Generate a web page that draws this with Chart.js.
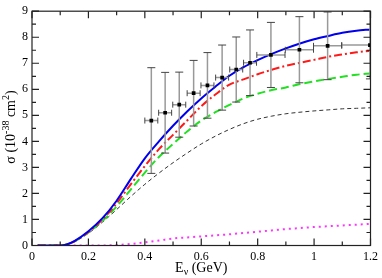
<!DOCTYPE html>
<html>
<head>
<meta charset="utf-8">
<script src="https://cdn.jsdelivr.net/npm/chart.js@4.4.1/dist/chart.umd.min.js"></script>
<style>
  body { margin: 0; background: #fff; }
  canvas { display: block; }
</style>
</head>
<body>
<canvas id="sigmaChart" width="382" height="278"></canvas>
<script>
// --- curve data (E in GeV, sigma in 1e-38 cm^2) ---
const energy = [0.02, 0.1, 0.12, 0.15, 0.2, 0.25, 0.3, 0.35, 0.4, 0.45, 0.5, 0.55, 0.6, 0.65, 0.7, 0.75, 0.8, 0.85, 0.9, 0.95, 1.0, 1.05, 1.1, 1.15, 1.2];
const sigmaBlue = [0, 0, 0.03, 0.17, 0.55, 1.05, 1.72, 2.55, 3.35, 4.0, 4.6, 5.15, 5.65, 6.1, 6.52, 6.85, 7.12, 7.36, 7.57, 7.76, 7.92, 8.05, 8.17, 8.25, 8.3];
const sigmaRed = [0, 0, 0.03, 0.16, 0.52, 1.0, 1.62, 2.35, 3.05, 3.7, 4.25, 4.8, 5.35, 5.8, 6.18, 6.38, 6.58, 6.75, 6.9, 7.02, 7.13, 7.25, 7.34, 7.42, 7.48];
const sigmaGreen = [0, 0, 0.03, 0.15, 0.5, 0.95, 1.5, 2.15, 2.8, 3.4, 3.9, 4.38, 4.8, 5.12, 5.4, 5.65, 5.83, 5.97, 6.07, 6.2, 6.3, 6.4, 6.48, 6.56, 6.61];
const sigmaBlack = [0, 0, 0.02, 0.14, 0.47, 0.9, 1.38, 1.88, 2.35, 2.78, 3.18, 3.55, 3.9, 4.2, 4.46, 4.68, 4.85, 4.97, 5.06, 5.12, 5.17, 5.21, 5.25, 5.27, 5.29];
const sigmaMagenta = [0, 0, 0, 0, 0, 0, 0.02, 0.06, 0.12, 0.19, 0.27, 0.31, 0.35, 0.39, 0.43, 0.48, 0.53, 0.58, 0.63, 0.67, 0.71, 0.74, 0.77, 0.8, 0.83];

// --- experimental points ---
const expE = [0.423, 0.472, 0.522, 0.573, 0.622, 0.674, 0.724, 0.773, 0.847, 0.948, 1.048, 1.198];
const expSigma = [4.8, 5.1, 5.41, 5.85, 6.15, 6.45, 6.76, 7.02, 7.32, 7.52, 7.67, 7.7];
const expErrY = [2.03, 1.55, 1.25, 1.26, 1.26, 1.25, 1.25, 1.26, 1.25, 1.27, 1.3, 1.3];
const expErrX = [0.023, 0.023, 0.023, 0.023, 0.023, 0.023, 0.023, 0.023, 0.05, 0.05, 0.05, 0.1];

const xTicks = [0, 0.2, 0.4, 0.6, 0.8, 1, 1.2];
const yTicks = [0, 1, 2, 3, 4, 5, 6, 7, 8, 9];

const SERIF = '"Liberation Serif", "DejaVu Serif", serif';

function toPoints(ys) {
  return energy.map((e, i) => ({ x: e, y: ys[i] }));
}

function curve(ys, color, width, dash) {
  return {
    type: 'line',
    data: toPoints(ys),
    borderColor: color,
    borderWidth: width,
    borderDash: dash,
    pointRadius: 0,
    fill: false,
    cubicInterpolationMode: 'monotone',
  };
}

// error bars drawn right before the points dataset
const errorBars = {
  id: 'errorBars',
  beforeDatasetDraw(chart, args) {
    if (args.index !== 0) return;
    const { ctx, chartArea } = chart;
    const xs = chart.scales.x;
    const ys = chart.scales.y;
    ctx.save();
    ctx.beginPath();
    ctx.rect(chartArea.left, chartArea.top, chartArea.right - chartArea.left, chartArea.bottom - chartArea.top);
    ctx.clip();
    ctx.lineWidth = 1.5;
    expE.forEach((e, i) => {
      const px = xs.getPixelForValue(e);
      const py = ys.getPixelForValue(expSigma[i]);
      const yTop = ys.getPixelForValue(expSigma[i] + expErrY[i]);
      const yBot = ys.getPixelForValue(expSigma[i] - expErrY[i]);
      const xL = xs.getPixelForValue(e - expErrX[i]);
      const xR = xs.getPixelForValue(e + expErrX[i]);
      ctx.strokeStyle = '#999';
      ctx.beginPath();
      ctx.moveTo(px, yTop); ctx.lineTo(px, yBot);
      ctx.moveTo(xL, py); ctx.lineTo(xR, py);
      ctx.stroke();
      ctx.strokeStyle = '#444';
      ctx.lineWidth = 1;
      ctx.beginPath();
      ctx.moveTo(px - 4, yTop); ctx.lineTo(px + 4, yTop);
      ctx.moveTo(px - 4, yBot); ctx.lineTo(px + 4, yBot);
      ctx.moveTo(xL, py - 3); ctx.lineTo(xL, py + 3);
      ctx.moveTo(xR, py - 3); ctx.lineTo(xR, py + 3);
      ctx.stroke();
      ctx.lineWidth = 1.5;
    });
    ctx.restore();
  },
};

// frame with inward ticks and the axis titles
const frame = {
  id: 'frame',
  afterDraw(chart) {
    const { ctx, chartArea: a } = chart;
    const xs = chart.scales.x;
    const ys = chart.scales.y;
    ctx.save();
    ctx.strokeStyle = '#222';
    ctx.lineWidth = 1.2;
    ctx.strokeRect(a.left, a.top, a.right - a.left, a.bottom - a.top);
    ctx.beginPath();
    for (let v = 0; v <= 1.2001; v += 0.1) {
      const len = Math.round(v * 10) % 2 === 0 ? 7 : 4;
      const px = xs.getPixelForValue(v);
      ctx.moveTo(px, a.bottom); ctx.lineTo(px, a.bottom - len);
      ctx.moveTo(px, a.top); ctx.lineTo(px, a.top + len);
    }
    for (let v = 0; v <= 9.001; v += 0.5) {
      const len = Math.round(v * 2) % 2 === 0 ? 7 : 4;
      const py = ys.getPixelForValue(v);
      ctx.moveTo(a.left, py); ctx.lineTo(a.left + len, py);
      ctx.moveTo(a.right, py); ctx.lineTo(a.right - len, py);
    }
    ctx.stroke();

    ctx.fillStyle = '#000';
    ctx.textBaseline = 'alphabetic';
    // x title: E_nu (GeV)
    const big = '14px ' + SERIF;
    const small = '10px ' + SERIF;
    ctx.font = big;
    const wE = ctx.measureText('E').width;
    const wRest = ctx.measureText(' (GeV)').width;
    ctx.font = small;
    const wNu = ctx.measureText('\u03BD').width;
    let x0 = (a.left + a.right) / 2 - (wE + wNu + wRest) / 2;
    const yb = 271.5;
    ctx.font = big; ctx.fillText('E', x0, yb); x0 += wE;
    ctx.font = small; ctx.fillText('\u03BD', x0, yb + 3); x0 += wNu;
    ctx.font = big; ctx.fillText(' (GeV)', x0, yb);

    // y title: sigma (10^-38 cm^2), rotated
    const parts = [
      ['\u03C3 (10', big, 0],
      ['-38', small, -6],
      [' cm', big, 0],
      ['2', small, -6],
      [')', big, 0],
    ];
    let total = 0;
    parts.forEach(p => { ctx.font = p[1]; total += ctx.measureText(p[0]).width; });
    ctx.translate(15, 127);
    ctx.rotate(-Math.PI / 2);
    let cx = -total / 2;
    parts.forEach(p => {
      ctx.font = p[1];
      ctx.fillText(p[0], cx, p[2]);
      cx += ctx.measureText(p[0]).width;
    });
    ctx.restore();
  },
};

const ctx = document.getElementById('sigmaChart').getContext('2d');
new Chart(ctx, {
  type: 'scatter',
  data: {
    datasets: [
      {
        type: 'scatter',
        data: expE.map((e, i) => ({ x: e, y: expSigma[i] })),
        pointStyle: 'rect',
        pointRadius: 2.6,
        backgroundColor: '#000',
        borderColor: '#000',
        borderWidth: 0,
      },
      curve(sigmaBlue, '#0000ee', 2, []),
      curve(sigmaRed, '#ff1a1a', 2, [8, 3, 2, 3]),
      curve(sigmaGreen, '#22e022', 2, [8, 4]),
      curve(sigmaBlack, '#333', 1, [4, 3]),
      curve(sigmaMagenta, '#ff33ff', 2, [2, 4]),
    ],
  },
  options: {
    responsive: false,
    animation: false,
    layout: { padding: { left: 0, right: 8, top: 5, bottom: 0 } },
    plugins: { legend: { display: false }, tooltip: { enabled: false } },
    scales: {
      x: {
        type: 'linear',
        min: 0,
        max: 1.2,
        afterFit(scale) { scale.height = 32.5; },
        afterBuildTicks(scale) { scale.ticks = xTicks.map(v => ({ value: v })); },
        grid: { display: false, drawTicks: false },
        border: { display: false },
        ticks: {
          padding: 4,
          color: '#000',
          font: { family: SERIF, size: 12 },
          maxRotation: 0,
          callback: v => String(Number(v.toFixed(1))),
        },
      },
      y: {
        type: 'linear',
        min: 0,
        max: 9,
        afterFit(scale) { scale.width = 32; },
        afterBuildTicks(scale) { scale.ticks = yTicks.map(v => ({ value: v })); },
        grid: { display: false, drawTicks: false },
        border: { display: false },
        ticks: {
          padding: 4,
          color: '#000',
          font: { family: SERIF, size: 12 },
          callback: v => String(v),
        },
      },
    },
  },
  plugins: [errorBars, frame],
});
</script>
</body>
</html>
